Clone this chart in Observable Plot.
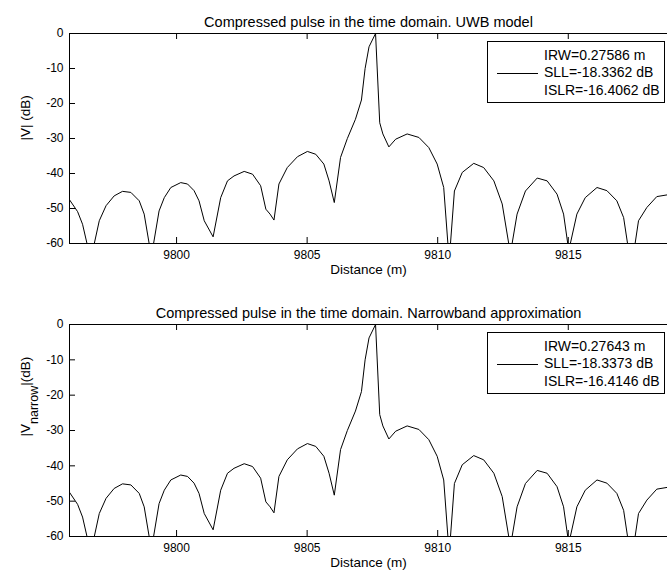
<!DOCTYPE html>
<html>
<head>
<meta charset="utf-8">
<script src="https://cdn.jsdelivr.net/npm/d3@7"></script>
<script src="https://cdn.jsdelivr.net/npm/@observablehq/plot@0.6"></script>
<style>
  body { margin: 0; background: #fff; }
  #chart { position: relative; width: 667px; height: 577px; overflow: hidden; background: #fff;
           font-family: "Liberation Sans", Arial, sans-serif; color: #000; }
  .panel { position: relative; width: 667px; }
  .panel svg { display: block; }
  .legend { position: absolute; box-sizing: border-box; border: 1px solid #000; background: #fff;
            font-size: 14px; color: #000; }
  .legend .row { position: absolute; left: 56px; height: 17.5px; line-height: 17.5px; white-space: nowrap; }
  .legend .sample { position: absolute; left: 9px; width: 41px; height: 0; border-top: 1px solid #000; }
</style>
</head>
<body>
<div id="chart"></div>
<script>
// ---- data ----
const distance = [
  9795.90, 9796.21, 9796.40, 9796.57, 9796.71, 9796.85, 9797.04, 9797.30, 9797.61, 9797.93,
  9798.25, 9798.57, 9798.76, 9798.95, 9799.03, 9799.12, 9799.33, 9799.53, 9799.78, 9800.16,
  9800.42, 9800.67, 9800.86, 9801.06, 9801.40, 9801.69, 9801.95, 9802.20, 9802.59, 9802.91,
  9803.22, 9803.42, 9803.58, 9803.73, 9803.92, 9804.24, 9804.63, 9805.01, 9805.33, 9805.64,
  9805.84, 9806.04, 9806.28, 9806.54, 9806.85, 9807.08, 9807.22, 9807.37, 9807.62, 9807.78,
  9807.90, 9808.13, 9808.39, 9808.83, 9809.28, 9809.66, 9809.98, 9810.23, 9810.39, 9810.44,
  9810.49, 9810.64, 9810.94, 9811.38, 9811.76, 9812.15, 9812.47, 9812.72, 9812.78, 9812.85,
  9813.04, 9813.36, 9813.81, 9814.19, 9814.57, 9814.82, 9814.98, 9815.03, 9815.08, 9815.33,
  9815.65, 9816.10, 9816.48, 9816.86, 9817.12, 9817.27, 9817.42, 9817.56, 9817.69, 9818.01,
  9818.39, 9818.79
];
const uwbDb = [
  -47.5, -50.9, -54.5, -60.0, -75.0, -60.0, -53.5, -49.2, -46.4, -45.1,
  -45.4, -47.8, -51.6, -60.0, -75.0, -60.0, -50.7, -46.9, -44.0, -42.6,
  -43.0, -44.9, -47.8, -53.5, -58.1, -46.9, -42.1, -40.7, -39.4, -40.2,
  -43.5, -50.2, -51.6, -53.3, -43.0, -38.3, -35.2, -33.7, -34.5, -37.3,
  -42.1, -48.3, -35.4, -30.0, -24.5, -19.0, -10.0, -3.8, 0.0, -25.5,
  -28.7, -32.4, -30.2, -28.7, -29.7, -32.6, -37.3, -44.0, -60.0, -75.0,
  -60.0, -45.0, -39.7, -37.1, -38.3, -42.1, -48.7, -60.0, -75.0, -60.0,
  -51.6, -45.0, -41.3, -42.1, -45.9, -51.6, -60.0, -75.0, -60.0, -51.6,
  -46.9, -44.0, -44.9, -47.8, -52.6, -60.0, -75.0, -60.0, -53.5, -49.7,
  -46.6, -46.1
];
const narrowDb = [
  -47.5, -50.9, -54.5, -60.0, -75.0, -60.0, -53.5, -49.2, -46.4, -45.1,
  -45.4, -47.8, -51.6, -60.0, -75.0, -60.0, -50.7, -46.9, -44.0, -42.6,
  -43.0, -44.9, -47.8, -53.5, -58.1, -46.9, -42.1, -40.7, -39.4, -40.2,
  -43.5, -50.2, -51.6, -53.3, -43.0, -38.3, -35.2, -33.7, -34.5, -37.3,
  -42.1, -48.3, -35.4, -30.0, -24.5, -19.0, -10.0, -3.8, 0.0, -25.5,
  -28.7, -32.4, -30.2, -28.7, -29.7, -32.6, -37.3, -44.0, -60.0, -75.0,
  -60.0, -45.0, -39.7, -37.1, -38.3, -42.1, -48.7, -60.0, -75.0, -60.0,
  -51.6, -45.0, -41.3, -42.1, -45.9, -51.6, -60.0, -75.0, -60.0, -51.6,
  -46.9, -44.0, -44.9, -47.8, -52.6, -60.0, -75.0, -60.0, -53.5, -49.7,
  -46.6, -46.1
];
const xTicks = [9800, 9805, 9810, 9815];
const yTicks = [0, -10, -20, -30, -40, -50, -60];
const xLimits = [9795.9, 9818.8];
const yLimits = [-60, 0];
const titleUwb = "Compressed pulse in the time domain. UWB model";
const titleNarrow = "Compressed pulse in the time domain. Narrowband approximation";
const yLabelUwb = "|V| (dB)";
const yLabelNarrow = ["|V", "narrow", "|(dB)"];
const xLabel = "Distance (m)";
const legendUwb = ["IRW=0.27586 m", "SLL=-18.3362 dB", "ISLR=-16.4062 dB"];
const legendNarrow = ["IRW=0.27643 m", "SLL=-18.3373 dB", "ISLR=-16.4146 dB"];

// ---- drawing ----
const W = 667, ML = 69;
const FONT = '"Liberation Sans", Arial, sans-serif';

function makePanel({values, title, ylabel, height, marginTop, marginBottom, legend, ylabelDy}) {
  const plotH = height - marginTop - marginBottom;
  const tickX = 6 * (xLimits[1] - xLimits[0]) / (W - ML);
  const tickY = 6 * (yLimits[1] - yLimits[0]) / plotH;
  const data = distance.map((d, i) => ({x: d, y: values[i]}));
  const yl = Array.isArray(ylabel) ? ylabel.join("") : ylabel;
  const svg = Plot.plot({
    width: W, height, marginLeft: ML, marginRight: 0, marginTop, marginBottom,
    style: {fontFamily: FONT, fontSize: "12px", color: "#000", background: "#fff", overflow: "visible"},
    x: {domain: xLimits, ticks: xTicks, tickSize: 0, tickPadding: 7, tickFormat: d => String(d), label: null},
    y: {domain: yLimits, ticks: yTicks, tickSize: 0, tickPadding: 6, tickFormat: d => String(d), label: null},
    marks: [
      Plot.line(data, {x: "x", y: "y", stroke: "#000", strokeWidth: 1, clip: true}),
      Plot.ruleY(yLimits, {stroke: "#000", strokeWidth: 1}),
      Plot.ruleX([xLimits[0]], {stroke: "#000", strokeWidth: 1}),
      Plot.ruleX(xTicks, {x: d => d, y1: yLimits[0], y2: yLimits[0] + tickY, stroke: "#000"}),
      Plot.ruleX(xTicks, {x: d => d, y1: yLimits[1], y2: yLimits[1] - tickY, stroke: "#000"}),
      Plot.ruleY(yTicks, {y: d => d, x1: xLimits[0], x2: xLimits[0] + tickX, stroke: "#000"}),
      Plot.text([title], {text: d => d, frameAnchor: "top", dy: -17, fontSize: 14.5, fill: "#000"}),
      Plot.text([xLabel], {text: d => d, frameAnchor: "bottom", dy: 30, fontSize: 13.5, fill: "#000"}),
      Plot.text([yl], {text: d => d, frameAnchor: "left", dx: -44, dy: ylabelDy, rotate: -90, fontSize: 13.5, fill: "#000"})
    ]
  });
  if (Array.isArray(ylabel)) {
    d3.select(svg).selectAll("text").filter(function() { return this.textContent === yl; })
      .each(function() {
        const t = d3.select(this);
        t.text(null);
        t.append("tspan").text(ylabel[0]);
        t.append("tspan").attr("dy", 8).attr("font-size", 12.5).text(ylabel[1]);
        t.append("tspan").attr("dy", -8).text(ylabel[2]);
      });
  }
  const div = document.createElement("div");
  div.className = "panel";
  div.style.height = height + "px";
  div.appendChild(svg);
  const lg = document.createElement("div");
  lg.className = "legend";
  Object.assign(lg.style, {left: "487px", top: (marginTop + 8) + "px", width: "178px", height: "62px"});
  legend.forEach((s, i) => {
    const r = document.createElement("div");
    r.className = "row";
    r.style.top = (4.5 + i * 17.5) + "px";
    r.textContent = s;
    lg.appendChild(r);
  });
  const sample = document.createElement("div");
  sample.className = "sample";
  sample.style.top = (4.5 + 17.5 + 8.5) + "px";
  lg.appendChild(sample);
  div.appendChild(lg);
  return div;
}

const chart = document.getElementById("chart");
chart.appendChild(makePanel({values: uwbDb, title: titleUwb, ylabel: yLabelUwb, height: 290, marginTop: 33, marginBottom: 47, legend: legendUwb, ylabelDy: 2}));
chart.appendChild(makePanel({values: narrowDb, title: titleNarrow, ylabel: yLabelNarrow, height: 287, marginTop: 34, marginBottom: 41, legend: legendNarrow, ylabelDy: 6}));
</script>
</body>
</html>
